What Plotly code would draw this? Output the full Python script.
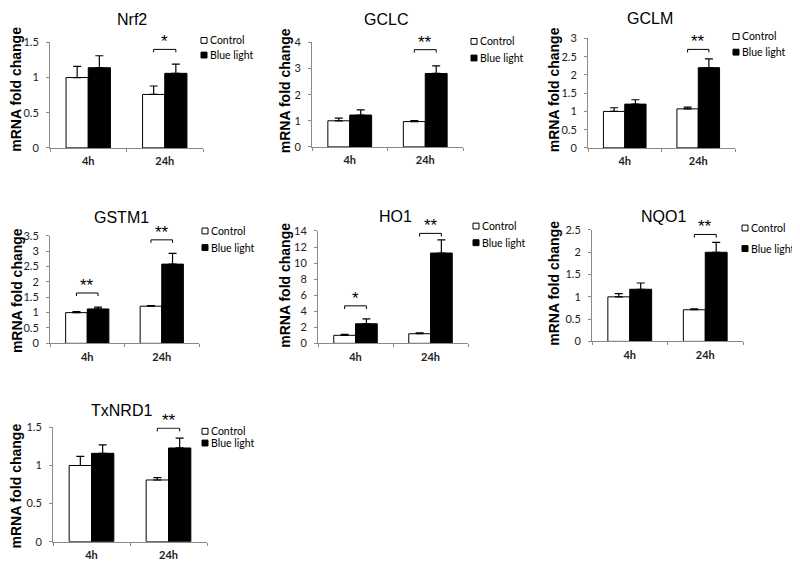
import plotly.graph_objects as go

# ---------------- data ----------------
genes = ["Nrf2", "GCLC", "GCLM", "GSTM1", "HO1", "NQO1", "TxNRD1"]
timepoints = ["4h", "24h"]

ctrl_4h = [1.00, 1.00, 1.00, 1.00, 1.00, 1.00, 1.00]
ctrl_24h = [0.76, 0.97, 1.07, 1.21, 1.20, 0.71, 0.81]
blue_4h = [1.14, 1.22, 1.20, 1.12, 2.44, 1.17, 1.16]
blue_24h = [1.06, 2.81, 2.20, 2.58, 11.25, 2.00, 1.23]

ctrl_4h_err = [0.16, 0.10, 0.10, 0.03, 0.13, 0.07, 0.12]
ctrl_24h_err = [0.12, 0.04, 0.05, 0.02, 0.10, 0.02, 0.03]
blue_4h_err = [0.17, 0.20, 0.12, 0.06, 0.60, 0.14, 0.11]
blue_24h_err = [0.13, 0.29, 0.24, 0.35, 1.63, 0.22, 0.13]

y_max = [1.5, 4, 3, 3.5, 14, 2.5, 1.5]
y_step = [0.5, 1, 0.5, 0.5, 2, 0.5, 0.5]

# significance: (gene index, timepoint index, label, bracket height)
sig_gene = [0, 1, 2, 3, 3, 4, 4, 5, 6]
sig_time = [1, 1, 1, 0, 1, 0, 1, 1, 1]
sig_label = ["*", "**", "**", "**", "**", "*", "**", "**", "**"]
sig_height = [1.40, 3.72, 2.70, 1.64, 3.37, 4.67, 13.7, 2.40, 1.49]

# ---------------- layout (pixels, in screen coordinates) ----------------
W, H = 800, 571
OFF = 8  # default page body margin that offsets the figure on screen
# x0, x1, ytop, ybottom of each plot area
boxes = [
    (50, 203, 36, 144),
    (312, 463, 36, 143),
    (588, 735, 32, 144),
    (50, 199, 234, 344),
    (318, 468, 229, 344),
    (592, 743, 228, 342),
    (53, 207, 430, 547),
]
title_pos = [(132, 13), (386, 13), (650, 12), (122, 215), (395, 214), (663, 214), (122, 413)]
ytitle_pos = [(16.5, 84), (285, 86), (554, 85), (16.5, 290), (285, 285), (554, 283), (16.5, 490)]
# legend: square left x, y centre of "Control", y centre of "Blue light"
legend_pos = [(201, 34, 49), (471, 35, 52), (733, 30, 46), (202, 229, 246),
              (473, 224, 241), (742, 226, 247), (202, 434, 446)]

BARGAP = 0.42
half = (1 - BARGAP) / 4  # offset of each bar centre from category centre


def px(x):
    return (x - OFF) / W


def py(y):
    return 1 - (y - OFF) / H


AX = "#8a8a8a"
fig = go.Figure()
annotations = []
shapes = []
layout_axes = {}

for i, g in enumerate(genes):
    n = "" if i == 0 else str(i + 1)
    xa, ya = "x" + n, "y" + n
    fig.add_trace(go.Bar(
        x=[0, 1], y=[ctrl_4h[i], ctrl_24h[i]], name="Control",
        marker=dict(color="white", line=dict(color="black", width=1)),
        error_y=dict(type="data", symmetric=False, array=[ctrl_4h_err[i], ctrl_24h_err[i]],
                     arrayminus=[0, 0], color="black", thickness=1.2, width=4),
        xaxis=xa, yaxis=ya, showlegend=False))
    fig.add_trace(go.Bar(
        x=[0, 1], y=[blue_4h[i], blue_24h[i]], name="Blue light",
        marker=dict(color="black", line=dict(color="black", width=1)),
        error_y=dict(type="data", symmetric=False, array=[blue_4h_err[i], blue_24h_err[i]],
                     arrayminus=[0, 0], color="black", thickness=1.2, width=4),
        xaxis=xa, yaxis=ya, showlegend=False))

    x0, x1, yt, yb = boxes[i]
    layout_axes["xaxis" + n] = dict(
        domain=[px(x0), px(x1)], anchor=ya, range=[-0.5, 1.5],
        tickvals=[0, 1], ticktext=timepoints, ticks="", ticklabelstandoff=3,
        tickfont=dict(family="Lato", size=11, color="#222", weight="bold"),
        showline=True, linecolor=AX, linewidth=1, showgrid=False, zeroline=False,
        minor=dict(tickvals=[-0.5, 0.5, 1.5], ticks="outside", ticklen=3, tickcolor=AX, showgrid=False),
        fixedrange=True)
    layout_axes["yaxis" + n] = dict(
        domain=[py(yb), py(yt)], anchor=xa, range=[0, y_max[i]], dtick=y_step[i], tick0=0,
        ticks="outside", ticklen=3, tickcolor=AX, ticklabelstandoff=5,
        tickfont=dict(family="Lato", size=11, color="#222"),
        showline=True, linecolor=AX, linewidth=1, showgrid=False, zeroline=False,
        fixedrange=True)

    tx, ty = title_pos[i]
    annotations.append(dict(text=g, x=px(tx), y=py(ty), xref="paper", yref="paper",
                            showarrow=False, xanchor="center", yanchor="middle",
                            font=dict(family="Liberation Sans, Arial", size=16, color="black")))
    ax_, ay_ = ytitle_pos[i]
    annotations.append(dict(text="<b>mRNA fold change</b>", x=px(ax_), y=py(ay_),
                            xref="paper", yref="paper", showarrow=False, textangle=-90,
                            xanchor="center", yanchor="middle",
                            font=dict(family="Liberation Sans, Arial", size=14, color="black")))
    lx, lc, lb = legend_pos[i]
    for label, yc, fill in (("Control", lc, "white"), ("Blue light", lb, "black")):
        shapes.append(dict(type="rect", xref="paper", yref="paper",
                           x0=px(lx), x1=px(lx + 6), y0=py(yc + 3), y1=py(yc - 3),
                           fillcolor=fill, line=dict(color="black", width=1)))
        annotations.append(dict(text=label, x=px(lx + 6.5), y=py(yc), xref="paper", yref="paper",
                                showarrow=False, xanchor="left", yanchor="middle",
                                font=dict(family="Lato", size=10.5, color="black")))

# significance brackets
for k in range(len(sig_gene)):
    i = sig_gene[k]
    n = "" if i == 0 else str(i + 1)
    t = sig_time[k]
    h = sig_height[k]
    d = y_max[i] * 0.028
    xl, xr = t - half, t + half
    fig.add_trace(go.Scatter(
        x=[xl, xl, xr, xr], y=[h - d, h, h, h - d], mode="lines",
        line=dict(color="black", width=1), xaxis="x" + n, yaxis="y" + n,
        showlegend=False, hoverinfo="skip", cliponaxis=False))
    annotations.append(dict(text=sig_label[k], x=t, y=h, xref="x" + n, yref="y" + n,
                            showarrow=False, xanchor="center", yanchor="bottom", yshift=-4,
                            font=dict(family="Liberation Sans, Arial", size=17, color="black")))

fig.update_layout(
    width=W, height=H, margin=dict(l=0, r=0, t=0, b=0),
    paper_bgcolor="white", plot_bgcolor="white",
    barmode="group", bargap=BARGAP, bargroupgap=0,
    annotations=annotations, shapes=shapes, showlegend=False,
    **layout_axes)

fig.write_html("out.html")
